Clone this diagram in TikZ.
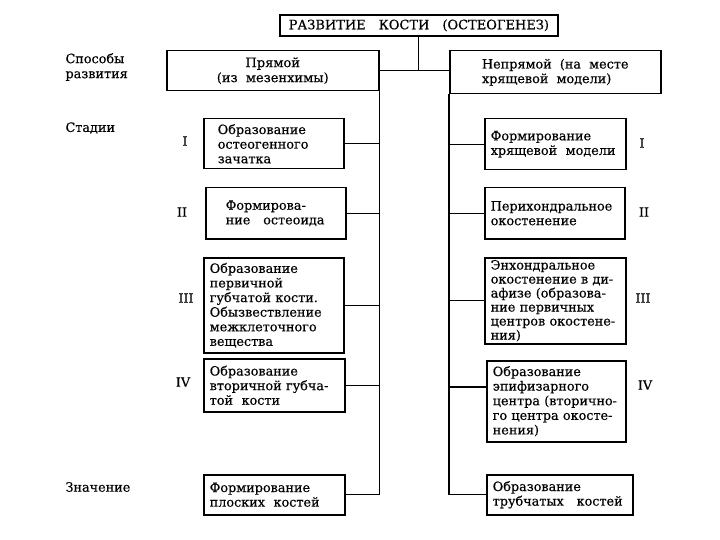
\documentclass[tikz,border=0pt]{standalone}
\usepackage{fontspec}
\setmainfont[FakeBold=0.4]{DejaVu Serif}
\usetikzlibrary{positioning}

\begin{document}
\begin{tikzpicture}[x=1pt,y=-1pt,
    box/.style={draw,line width=1.5pt,rectangle,anchor=north west,align=left,
        inner xsep=6pt,inner ysep=1pt,font=\fontsize{12.8}{14.6}\selectfont},
    head/.style={box,align=center,font=\fontsize{13}{15}\selectfont},
    label/.style={anchor=west,align=left,font=\fontsize{12.8}{15}\selectfont},
    roman/.style={font=\fontsize{12.8}{15}\selectfont},
    link/.style={line width=1.2pt}]
    \useasboundingbox (0,0) rectangle (720,540);
    % top
    \node[head,line width=1.7pt,minimum width=278pt,minimum height=21pt] (root) at (279,14)
        {РАЗВИТИЕ\quad КОСТИ\quad (ОСТЕОГЕНЕЗ)};
    \node[head,minimum width=212pt,minimum height=40pt] (direct) at (166,50)
        {Прямой\\(из\ \ мезенхимы)};
    \node[box,minimum width=211pt,minimum height=43pt] (indirect) at (449,50)
        {Непрямой\ \ (на\ \ месте\\хрящевой\ \ модели)};
    % row labels
    \node[label] (ways) at (62,67) {Способы\\развития};
    \node[label] (stages) at (62,128) {Стадии};
    \node[label] (meaning) at (62,487) {Значение};
    % left branch
    \node[box,minimum width=140pt,minimum height=50pt,inner xsep=14pt,text width=112pt] (l1) at (203,118)
        {Образование\\остеогенного\\зачатка};
    \node[box,minimum width=140pt,minimum height=51pt,inner xsep=20pt,text width=100pt] (l2) at (205,187)
        {Формирова-\\ние\quad остеоида};
    \node[box,minimum width=140pt,minimum height=95pt,text width=128pt] (l3) at (203,257)
        {Образование\\первичной\\губчатой кости.\\Обызвествление\\межклеточного\\вещества};
    \node[box,minimum width=141pt,minimum height=53pt,text width=129pt] (l4) at (203,358)
        {Образование\\вторичной губча-\\той\ \ кости};
    \node[box,minimum width=141pt,minimum height=40pt,text width=129pt] (lz) at (203,474)
        {Формирование\\плоских\ \ костей};
    % right branch
    \node[box,minimum width=141pt,minimum height=51pt,text width=129pt] (r1) at (484,118)
        {Формирование\\хрящевой\ \ модели};
    \node[box,minimum width=140pt,minimum height=51pt,text width=128pt] (r2) at (484,187)
        {Перихондральное\\окостенение};
    \node[box,minimum width=141pt,minimum height=86pt,inner ysep=0pt,text width=129pt,
        font=\fontsize{12.8}{14}\selectfont] (r3) at (484,257)
        {Энхондральное\\окостенение в ди-\\афизе (образова-\\ние первичных\\центров окостене-\\ния)};
    \node[box,minimum width=139pt,minimum height=81pt,text width=127pt] (r4) at (486,360)
        {Образование\\эпифизарного\\центра (вторично-\\го центра окосте-\\нения)};
    \node[box,minimum width=146pt,minimum height=40pt,text width=134pt] (rz) at (486,474)
        {Образование\\трубчатых\ \ \ костей};
    % stage numbers
    \foreach \n/\x/\y in {I/185/141,II/182/212,III/186/298,IV/183/382}
        \node[roman] (left\n) at (\x,\y) {\n};
    \foreach \n/\x/\y in {I/642/143,II/644/212,III/643/298,IV/645/385}
        \node[roman] (right\n) at (\x,\y) {\n};
    % connectors
    \coordinate (r4in) at (449,387);
    \draw[link] (root.south) -- (root.south |- direct.east);
    \draw[link] (direct.east) -- (direct.east -| indirect.west);
    \draw[link] (direct.south east) -- (direct.south east |- lz.east);
    \draw[link] (indirect.south west) -- (indirect.south west |- rz.west);
    \foreach \b in {l1,l2,l3,l4,lz}
        \draw[link] (\b.east) -- (\b.east -| direct.south east);
    \foreach \b in {r1,r2,r3,rz}
        \draw[link] (\b.west -| indirect.south west) -- (\b.west);
    \draw[link] (r4in) -- (r4in -| r4.west);
\end{tikzpicture}
\end{document}
